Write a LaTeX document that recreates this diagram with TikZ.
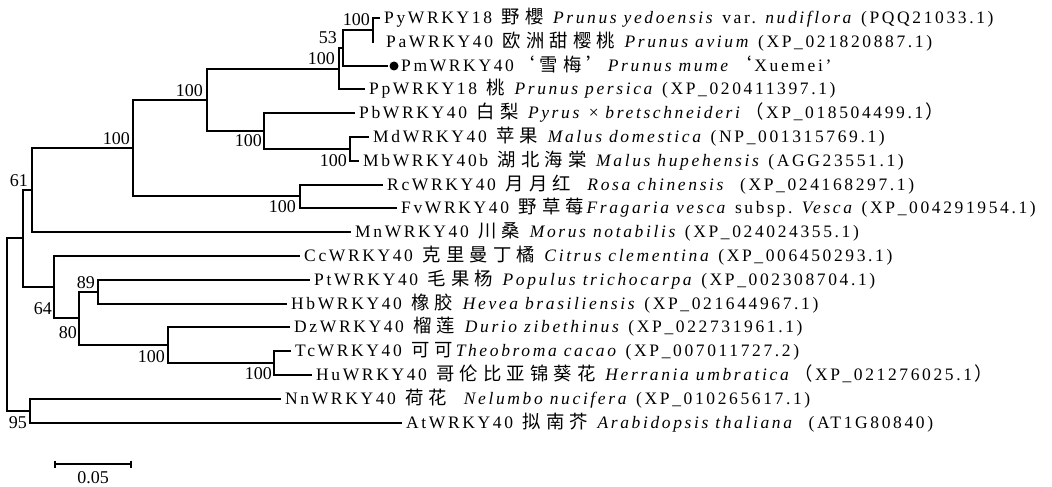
\documentclass[tikz,border=0pt]{standalone}
\usepackage{fontspec}
\setmainfont{Liberation Serif}[LetterSpace=15]
\newfontfamily\plainfont{Liberation Serif}
\newfontfamily\cjkfont[Scale=1.05]{Noto Sans CJK SC}
\newlength\zw
\setlength\zw{23.5pt}
\def\zhloop#1{\ifx#1\relax\else\makebox[\zw][c]{\cjkfont #1}\expandafter\zhloop\fi}
\newcommand\zh[1]{\zhloop#1\relax}
\newcommand\zx{\makebox[\zw][c]{×}}
\tikzset{
  br/.style={line width=2pt, line join=miter},
  leaf/.style={anchor=west, inner xsep=4pt, inner ysep=0pt, text height=13.2pt, text depth=2pt,
               font=\fontsize{17.5}{20}\selectfont},
  bs/.style={anchor=base east, inner sep=0pt, font=\plainfont\fontsize{18}{20}\selectfont},
}
\begin{document}
\begin{tikzpicture}[x=1pt,y=-1pt]
\useasboundingbox (0,0) rectangle (1052,487);
% internal nodes
\coordinate (R)   at (7,325);
\coordinate (A)   at (23,238);
\coordinate (B)   at (32,190);
\coordinate (C)   at (133,148);
\coordinate (D)   at (207,100);
\coordinate (Pr)  at (339,69);
\coordinate (N53) at (343,48);
\coordinate (PyPa) at (373,30);
\coordinate (Ma)  at (264,131);
\coordinate (MM)  at (350,149);
\coordinate (RF)  at (300,196);
\coordinate (N64) at (54,287);
\coordinate (N80) at (79,318);
\coordinate (N89) at (98,292);
\coordinate (Mv)  at (168,345);
\coordinate (TH)  at (274,363);
\coordinate (N95) at (30,411);
% leaves
\node[leaf] (py) at (380,18) {PyWRKY18 \zh{野櫻} \textit{Prunus yedoensis} var. \textit{nudiflora} (PQQ21033.1)};
\node[leaf, inner xsep=12pt] (pa) at (374,42) {PaWRKY40 \zh{欧洲甜樱桃} \textit{Prunus avium} (XP\_021820887.1)};
\node[circle, fill, inner sep=0pt, minimum size=9pt, outer sep=2pt] (pmdot) at (394,66) {};
\node[leaf, inner xsep=2pt] (pm) at (399,66) {PmWRKY40\zh{‘雪梅’}\textit{Prunus mume}\zh{‘}Xuemei’};
\node[leaf] (pp) at (365,89) {PpWRKY18 \zh{桃} \textit{Prunus persica} (XP\_020411397.1)};
\node[leaf] (pb) at (355,113) {PbWRKY40 \zh{白梨} \textit{Pyrus}\zx\textit{bretschneideri}\zh{（}XP\_018504499.1\zh{）}};
\node[leaf] (md) at (369,137) {MdWRKY40 \zh{苹果} \textit{Malus domestica} (NP\_001315769.1)};
\node[leaf] (mb) at (359,161) {MbWRKY40b \zh{湖北海棠} \textit{Malus hupehensis} (AGG23551.1)};
\node[leaf] (rc) at (383,185) {RcWRKY40 \zh{月月红} \ \textit{Rosa chinensis} \ (XP\_024168297.1)};
\node[leaf] (fv) at (397,208) {FvWRKY40 \zh{野草莓}\textit{Fragaria vesca} subsp. \textit{Vesca} (XP\_004291954.1)};
\node[leaf] (mn) at (351,232) {MnWRKY40 \zh{川桑} \textit{Morus notabilis} (XP\_024024355.1)};
\node[leaf] (cc) at (300,256) {CcWRKY40 \zh{克里曼丁橘} \textit{Citrus clementina} (XP\_006450293.1)};
\node[leaf] (pt) at (310,280) {PtWRKY40 \zh{毛果杨} \textit{Populus trichocarpa} (XP\_002308704.1)};
\node[leaf] (hb) at (287,304) {HbWRKY40 \zh{橡胶} \textit{Hevea brasiliensis} (XP\_021644967.1)};
\node[leaf] (dz) at (290,327) {DzWRKY40 \zh{榴莲} \textit{Durio zibethinus} (XP\_022731961.1)};
\node[leaf] (tc) at (291,351) {TcWRKY40 \zh{可可}\textit{Theobroma cacao} (XP\_007011727.2)};
\node[leaf] (hu) at (312,375) {HuWRKY40 \zh{哥伦比亚锦葵花} \textit{Herrania umbratica}\zh{（}XP\_021276025.1\zh{）}};
\node[leaf] (nn) at (281,399) {NnWRKY40 \zh{荷花} \ \textit{Nelumbo nucifera} (XP\_010265617.1)};
\node[leaf] (at) at (402,423) {AtWRKY40 \zh{拟南芥} \textit{Arabidopsis thaliana} \ (AT1G80840)};
% branches
\draw[br] (R) |- (A);   \draw[br] (R) |- (N95);
\draw[br] (A) |- (B);   \draw[br] (A) |- (N64);
\draw[br] (B) |- (C);   \draw[br] (B) |- (mn.west);
\draw[br] (C) |- (D);   \draw[br] (C) |- (RF);
\draw[br] (D) |- (Pr);  \draw[br] (D) |- (Ma);
\draw[br] (Pr) |- (N53); \draw[br] (Pr) |- (pp.west);
\draw[br] (N53) |- (PyPa); \draw[br] (N53) |- (pmdot.west);
\draw[br] (PyPa) |- (py.west); \draw[br] (PyPa) |- (pa.west);
\draw[br] (Ma) |- (pb.west); \draw[br] (Ma) |- (MM);
\draw[br] (MM) |- (md.west); \draw[br] (MM) |- (mb.west);
\draw[br] (RF) |- (rc.west); \draw[br] (RF) |- (fv.west);
\draw[br] (N64) |- (cc.west); \draw[br] (N64) |- (N80);
\draw[br] (N80) |- (N89); \draw[br] (N80) |- (Mv);
\draw[br] (N89) |- (pt.west); \draw[br] (N89) |- (hb.west);
\draw[br] (Mv) |- (dz.west); \draw[br] (Mv) |- (TH);
\draw[br] (TH) |- (tc.west); \draw[br] (TH) |- (hu.west);
\draw[br] (N95) |- (nn.west); \draw[br] (N95) |- (at.west);
% bootstrap values
\node[bs] (b1) at (370,26) {100};
\node[bs] (b2) at (337,44) {53};
\node[bs] (b3) at (335,64) {100};
\node[bs] (b4) at (203,96) {100};
\node[bs] (b5) at (262,146) {100};
\node[bs] (b6) at (347,166) {100};
\node[bs] (b7) at (130,144) {100};
\node[bs] (b8) at (296,212) {100};
\node[bs] (b9) at (28,186) {61};
\node[bs] (b10) at (52,314) {64};
\node[bs] (b11) at (95,288) {89};
\node[bs] (b12) at (77,338) {80};
\node[bs] (b13) at (165,362) {100};
\node[bs] (b14) at (272,379) {100};
\node[bs] (b15) at (27,428) {95};
% scale bar
\coordinate (s1) at (55,464);
\coordinate (s2) at (131,464);
\draw[br] (s1) -- (s2);
\draw[br] ([yshift=3.5pt]s1) -- ([yshift=-3.5pt]s1);
\draw[br] ([yshift=3.5pt]s2) -- ([yshift=-3.5pt]s2);
\node[font=\plainfont\fontsize{18}{20}\selectfont, inner sep=0pt] (sl) at (93,478) {0.05};
\end{tikzpicture}
\end{document}
